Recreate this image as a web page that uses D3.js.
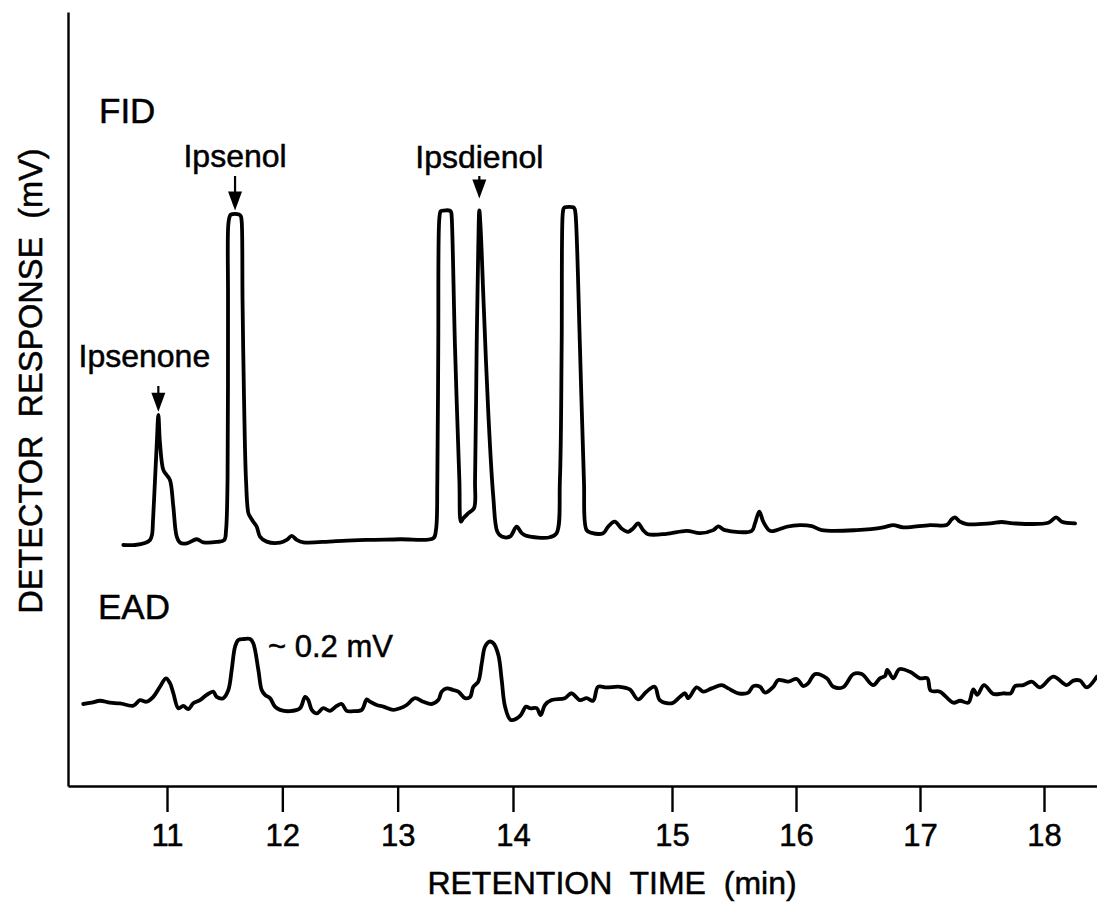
<!DOCTYPE html>
<html>
<head>
<meta charset="utf-8">
<script src="https://cdn.jsdelivr.net/npm/d3@7/dist/d3.min.js"></script>
<style>
  html, body { margin: 0; padding: 0; background: #fff; }
  svg { display: block; }
  text {
    font-family: "Liberation Sans", Arial, Helvetica, sans-serif;
    fill: #000;
    stroke: #000;
    stroke-width: 0.5px;
  }
</style>
</head>
<body>
<svg id="chart" width="1097" height="904"></svg>
<script>
// ---- Data -----------------------------------------------------------
// Retention-time axis: tick positions (min)
const timeTicks = [11, 12, 13, 14, 15, 16, 17, 18];

// FID trace: retention time (min) and signal (% of recorder full scale)
const fidTime = [
  10.621, 10.723, 10.809, 10.853, 10.870, 10.879, 10.896, 10.913, 10.925, 10.939,
  10.968, 10.997, 11.026, 11.055, 11.084, 11.113, 11.171, 11.258, 11.315, 11.431,
  11.497, 11.512, 11.525, 11.529, 11.532, 11.546, 11.555, 11.624, 11.640, 11.648,
  11.655, 11.668, 11.685, 11.705, 11.720, 11.748, 11.778, 11.806, 11.864, 11.980,
  12.038, 12.081, 12.125, 12.182, 12.442, 12.732, 13.020, 13.309, 13.332, 13.344,
  13.352, 13.361, 13.372, 13.382, 13.454, 13.464, 13.469, 13.497, 13.535, 13.549,
  13.569, 13.613, 13.662, 13.671, 13.685, 13.699, 13.708, 13.720, 13.743, 13.786,
  13.829, 13.864, 13.902, 13.974, 14.023, 14.055, 14.086, 14.232, 14.274, 14.295,
  14.306, 14.312, 14.318, 14.326, 14.379, 14.388, 14.394, 14.421, 14.446, 14.463,
  14.494, 14.567, 14.598, 14.640, 14.682, 14.724, 14.755, 14.787, 14.818, 14.849,
  14.965, 15.119, 15.226, 15.333, 15.373, 15.427, 15.643, 15.669, 15.704, 15.736,
  15.790, 15.844, 15.925, 16.032, 16.127, 16.207, 16.490, 16.704, 16.785, 16.865,
  17.081, 17.215, 17.256, 17.282, 17.323, 17.377, 17.565, 17.659, 17.753, 18.035,
  18.097, 18.143, 18.250
];
const fidSignal = [
  0.0, 0.0, 0.6, 1.5, 3.0, 7.4, 19.2, 31.1, 38.5, 30.2,
  22.2, 20.7, 19.2, 11.3, 2.5, 0.7, 0.5, 1.7, 0.8, 0.9,
  1.5, 4.4, 19.2, 72.5, 95.0, 97.4, 97.8, 97.8, 97.3, 95.5,
  72.5, 43.0, 19.2, 9.5, 8.4, 6.9, 5.4, 2.5, 1.0, 0.7,
  1.5, 2.7, 1.5, 0.8, 1.1, 1.5, 1.7, 2.0, 4.4, 19.2,
  58.7, 96.5, 98.7, 98.9, 98.9, 98.4, 96.8, 58.7, 19.2, 6.9,
  7.9, 9.4, 10.9, 19.2, 58.7, 88.3, 99.0, 93.2, 73.5, 39.0,
  14.3, 3.9, 2.5, 2.5, 5.4, 3.5, 2.7, 2.3, 3.5, 19.2,
  58.7, 97.5, 99.5, 99.9, 99.9, 99.4, 97.6, 58.7, 19.2, 4.4,
  3.6, 3.5, 5.4, 6.9, 4.9, 3.9, 4.9, 6.4, 4.4, 3.2,
  3.3, 4.2, 3.5, 4.4, 5.5, 4.4, 4.2, 6.4, 9.9, 6.9,
  4.2, 4.4, 5.4, 5.9, 5.6, 4.4, 4.4, 5.2, 5.9, 5.2,
  5.9, 5.9, 7.6, 8.2, 6.9, 6.2, 6.4, 6.8, 6.4, 6.6,
  8.2, 6.9, 6.4
];

// EAD trace: retention time (min) and antennal response (mV)
const eadTime = [
  10.274, 10.347, 10.419, 10.506, 10.592, 10.708, 10.766, 10.824, 10.881, 10.939,
  10.991, 11.026, 11.055, 11.098, 11.141, 11.185, 11.228, 11.286, 11.344, 11.401,
  11.431, 11.488, 11.532, 11.561, 11.590, 11.618, 11.668, 11.720, 11.748, 11.792,
  11.821, 11.850, 11.893, 11.936, 11.980, 12.066, 12.153, 12.197, 12.225, 12.255,
  12.298, 12.355, 12.413, 12.471, 12.515, 12.558, 12.615, 12.688, 12.732, 12.760,
  12.818, 12.876, 12.962, 13.020, 13.078, 13.150, 13.222, 13.295, 13.352, 13.382,
  13.425, 13.482, 13.526, 13.584, 13.627, 13.656, 13.699, 13.729, 13.757, 13.795,
  13.829, 13.873, 13.902, 13.931, 13.980, 14.044, 14.082, 14.107, 14.149, 14.174,
  14.201, 14.243, 14.326, 14.368, 14.421, 14.463, 14.504, 14.535, 14.588, 14.672,
  14.734, 14.787, 14.839, 14.891, 14.923, 14.975, 15.010, 15.065, 15.105, 15.131,
  15.199, 15.252, 15.320, 15.401, 15.454, 15.535, 15.615, 15.656, 15.710, 15.750,
  15.817, 15.857, 15.938, 16.006, 16.059, 16.099, 16.153, 16.248, 16.301, 16.381,
  16.462, 16.530, 16.623, 16.677, 16.718, 16.736, 16.785, 16.833, 16.919, 17.000,
  17.059, 17.086, 17.161, 17.269, 17.323, 17.390, 17.430, 17.462, 17.516, 17.591,
  17.672, 17.732, 17.766, 17.833, 17.901, 17.968, 18.075, 18.183, 18.236, 18.290,
  18.344, 18.425
];
const eadSignal = [
  0.000, 0.004, 0.010, 0.004, 0.002, -0.005, 0.012, 0.007, 0.022, 0.053,
  0.079, 0.064, 0.033, -0.013, -0.006, -0.016, 0.002, 0.012, 0.028, 0.038,
  0.022, 0.018, 0.043, 0.105, 0.176, 0.197, 0.200, 0.200, 0.187, 0.105,
  0.043, 0.028, 0.018, -0.008, -0.018, -0.022, -0.013, 0.022, 0.012, -0.018,
  -0.029, -0.013, -0.021, -0.006, 0.000, -0.021, -0.022, -0.018, 0.014, 0.007,
  -0.003, -0.008, -0.018, -0.013, -0.003, 0.018, 0.007, 0.000, 0.012, 0.038,
  0.048, 0.043, 0.038, 0.018, 0.021, 0.053, 0.069, 0.125, 0.176, 0.192,
  0.187, 0.151, 0.074, -0.008, -0.049, -0.037, -0.008, -0.013, -0.013, -0.034,
  -0.003, 0.012, 0.018, 0.033, 0.012, 0.018, 0.010, 0.053, 0.051, 0.053,
  0.045, 0.014, 0.038, 0.053, 0.012, 0.002, 0.004, 0.022, 0.033, 0.018,
  0.051, 0.038, 0.048, 0.058, 0.048, 0.033, 0.035, 0.055, 0.053, 0.035,
  0.053, 0.074, 0.069, 0.077, 0.055, 0.064, 0.092, 0.079, 0.053, 0.052,
  0.092, 0.092, 0.058, 0.079, 0.086, 0.105, 0.079, 0.107, 0.099, 0.079,
  0.079, 0.041, 0.038, 0.004, 0.010, 0.004, 0.045, 0.028, 0.058, 0.031,
  0.033, 0.033, 0.055, 0.058, 0.069, 0.051, 0.084, 0.058, 0.072, 0.072,
  0.051, 0.084
];

// Identified compounds marked on the FID trace
const peakNames = ["Ipsenone", "Ipsenol", "Ipsdienol"];
const peakTimes = [10.925, 11.59, 13.708];
const peakSignal = [38.5, 97.8, 99.0];

// EAD response annotation
const eadNote = "~ 0.2 mV";
const eadNoteTime = 11.78;

// ---- Layout ---------------------------------------------------------
const svg = d3.select("#chart");
const axisY = 786, axisTop = 12, axisLeftX = 68;

// The recorder chart axis is not evenly spaced between 14 and 15 min,
// so the time scale is piecewise linear through the tick positions.
const x = d3.scaleLinear()
  .domain([10.142, 11, 14, 15, 18, 18.427])
  .range([68, 167, 513, 672, 1044, 1097]);

const yFid = d3.scaleLinear().domain([0, 100]).range([545, 207]);
const yEad = d3.scaleLinear().domain([0, 0.2]).range([704, 639]);
const yFrame = d3.scaleLinear().domain([0, 1]).range([axisY, axisTop]);

// ---- Axes -----------------------------------------------------------
const xAxis = d3.axisBottom(x)
  .tickValues(timeTicks)
  .tickFormat(d3.format("d"))
  .tickSize(26)
  .tickSizeOuter(0)
  .tickPadding(12);

const gx = svg.append("g")
  .attr("transform", `translate(0,${axisY})`)
  .call(xAxis);
gx.select(".domain").attr("stroke", "#000").attr("stroke-width", 2.4);
gx.selectAll(".tick line").attr("stroke", "#000").attr("stroke-width", 2.4);
gx.selectAll(".tick text")
  .attr("fill", "#000")
  .attr("stroke", "#000")
  .attr("stroke-width", 0.5)
  .style("font-size", "31px")
  .style("font-family", "'Liberation Sans', Arial, Helvetica, sans-serif");

const gy = svg.append("g")
  .attr("transform", `translate(${axisLeftX},0)`)
  .call(d3.axisLeft(yFrame).tickValues([]).tickSizeOuter(0));
gy.select(".domain").attr("stroke", "#000").attr("stroke-width", 2.4);

// Axis titles
svg.append("text")
  .attr("x", 612)
  .attr("y", 894)
  .attr("text-anchor", "middle")
  .style("font-size", "32px")
  .style("white-space", "pre")
  .text("RETENTION  TIME  (min)");

svg.append("text")
  .attr("transform", "translate(42,381) rotate(-90)")
  .attr("text-anchor", "middle")
  .style("font-size", "32.5px")
  .style("white-space", "pre")
  .text("DETECTOR  RESPONSE  (mV)");

// ---- Traces ---------------------------------------------------------
const curve = d3.curveCatmullRom.alpha(0.5);
const fidLine = d3.line()
  .curve(curve)
  .x(i => x(fidTime[i]))
  .y(i => yFid(fidSignal[i]));
const eadLine = d3.line()
  .curve(curve)
  .x(i => x(eadTime[i]))
  .y(i => yEad(eadSignal[i]));

svg.append("path")
  .attr("d", fidLine(d3.range(fidTime.length)))
  .attr("fill", "none")
  .attr("stroke", "#000")
  .attr("stroke-width", 3.8)
  .attr("stroke-linejoin", "round")
  .attr("stroke-linecap", "round");

svg.append("path")
  .attr("d", eadLine(d3.range(eadTime.length)))
  .attr("fill", "none")
  .attr("stroke", "#000")
  .attr("stroke-width", 3.8)
  .attr("stroke-linejoin", "round")
  .attr("stroke-linecap", "round");

// ---- Trace labels ---------------------------------------------------
svg.append("text").attr("x", 99).attr("y", 123)
  .style("font-size", "35px").text("FID");
svg.append("text").attr("x", 98).attr("y", 619)
  .style("font-size", "35px").text("EAD");

svg.append("text")
  .attr("x", x(eadNoteTime) + 11)
  .attr("y", 657)
  .style("font-size", "31px")
  .text(eadNote);

// ---- Compound arrows and names --------------------------------------
const arrowTop = [386, 176, 176];
const arrowGap = [3, 4, 12];
const labelBase = [367, 167, 168];
const labelShift = [-14, 0, 0];

peakNames.forEach((name, i) => {
  const px = x(peakTimes[i]);
  const tip = yFid(peakSignal[i]) - arrowGap[i];
  const headLen = 19, headHalf = 7;
  svg.append("line")
    .attr("x1", px).attr("x2", px)
    .attr("y1", arrowTop[i]).attr("y2", tip - headLen + 2)
    .attr("stroke", "#000").attr("stroke-width", 2.2);
  svg.append("path")
    .attr("d", `M${px - headHalf},${tip - headLen} L${px + headHalf},${tip - headLen} L${px},${tip} Z`)
    .attr("fill", "#000");
  svg.append("text")
    .attr("x", px + labelShift[i])
    .attr("y", labelBase[i])
    .attr("text-anchor", "middle")
    .style("font-size", "32px")
    .text(name);
});
</script>
</body>
</html>
